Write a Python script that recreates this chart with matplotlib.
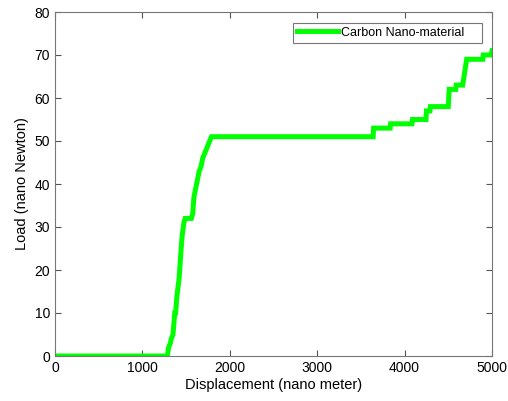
import matplotlib
matplotlib.use("Agg")
import matplotlib.pyplot as plt

displacement = [0, 1285, 1300, 1320, 1330, 1350, 1370, 1380, 1395, 1420, 1440, 1455, 1475, 1490,
                1510, 1560, 1575, 1590, 1610, 1630, 1650, 1670, 1690, 1710, 1730, 1750, 1770,
                1790, 1810, 3640, 3645, 3835, 3840, 4085, 4090, 4245, 4250, 4290, 4295,
                4500, 4510, 4585, 4590, 4665, 4710, 4895, 4900, 4990, 5000]
load = [0, 0, 2, 3, 4, 5, 10, 10, 14, 18, 24, 28, 31, 32,
        32, 32, 33, 37, 39, 41, 43, 44, 46, 47, 48, 49, 50,
        51, 51, 51, 53, 53, 54, 54, 55, 55, 57, 57, 58,
        58, 62, 62, 63, 63, 69, 69, 70, 70, 71]

plt.rcParams['font.family'] = ['Liberation Sans', 'DejaVu Sans']
fig = plt.figure(figsize=(5.08, 4.01), dpi=100)
ax = fig.add_axes([55/508, 45/401, 437/508, 344/401])
ax.plot(displacement, load, color='#00ff00', lw=3.6, label='Carbon Nano-material    ',
        solid_joinstyle='miter')
ax.set_xlim(0, 5000)
ax.set_ylim(0, 80)
ax.set_xticks([0, 1000, 2000, 3000, 4000, 5000])
ax.set_yticks(range(0, 81, 10))
ax.tick_params(direction='in', top=True, right=True, labelsize=10, color='#555555', length=4)
for s in ax.spines.values():
    s.set_color('#777777')
ax.set_xlabel('Displacement (nano meter)', fontsize=10.5, labelpad=2)
ax.set_ylabel('Load (nano Newton)', fontsize=10.5, labelpad=4)
leg = ax.legend(loc='upper right', fontsize=9, fancybox=False, edgecolor='#555555',
                borderpad=0.3, handlelength=3.3, handletextpad=0.25, borderaxespad=0,
                bbox_to_anchor=(0.977, 0.968))
leg.get_frame().set_linewidth(0.8)
fig.savefig('out.png', dpi=100)
